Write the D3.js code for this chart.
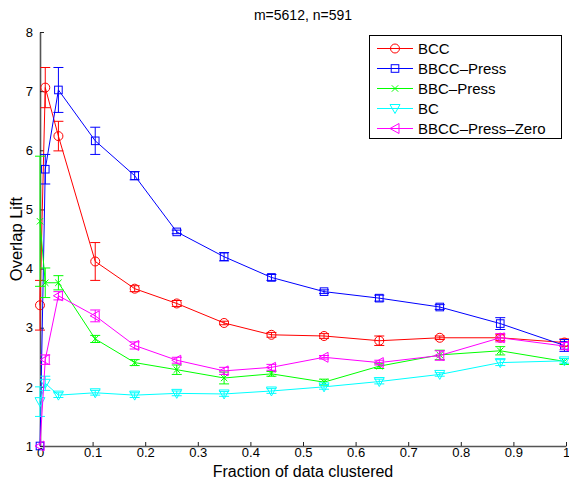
<!DOCTYPE html>
<html>
<head>
<meta charset="utf-8">
<script src="https://cdn.jsdelivr.net/npm/d3@7/dist/d3.min.js"></script>
<style>
  html, body { margin: 0; padding: 0; background: #fff; }
  svg { display: block; font-family: "Liberation Sans", Arial, sans-serif; }
</style>
</head>
<body>
<svg id="chart" width="569" height="479"></svg>
<script>
const title = "m=5612, n=591";
const xLabel = "Fraction of data clustered";
const yLabel = "Overlap Lift";
const xs = [0, 0.01, 0.035, 0.105, 0.18, 0.26, 0.35, 0.44, 0.54, 0.645, 0.76, 0.875, 0.997];
const xTicks = [0, 0.1, 0.2, 0.3, 0.4, 0.5, 0.6, 0.7, 0.8, 0.9, 1];
const xTickLabels = ["0", "0.1", "0.2", "0.3", "0.4", "0.5", "0.6", "0.7", "0.8", "0.9", "1"];
const yTicks = [1, 2, 3, 4, 5, 6, 7, 8];
const yTickLabels = ["1", "2", "3", "4", "5", "6", "7", "8"];
const seriesNames = ["BCC", "BBCC\u2013Press", "BBC\u2013Press", "BC", "BBCC\u2013Press\u2013Zero"];
const seriesColors = ["#ff0000", "#0000ff", "#00ff00", "#00ffff", "#ff00ff"];
const seriesMarkers = ["circle", "square", "x", "triDown", "triLeft"];
const bccValues = [3.38, 7.06, 6.24, 4.12, 3.66, 3.41, 3.08, 2.88, 2.86, 2.78, 2.83, 2.83, 2.75];
const bccErr = [0.42, 0.34, 0.25, 0.32, 0.05, 0.05, 0.03, 0.04, 0.04, 0.08, 0.03, 0.05, 0.06];
const bbccPressValues = [1.0, 5.68, 7.02, 6.16, 5.57, 4.62, 4.20, 3.85, 3.61, 3.50, 3.35, 3.07, 2.70];
const bbccPressErr = [0, 0.25, 0.38, 0.23, 0.07, 0.03, 0.07, 0.05, 0.03, 0.05, 0.04, 0.10, 0.10];
const bbcPressValues = [4.8, 3.76, 3.76, 2.81, 2.41, 2.29, 2.15, 2.22, 2.08, 2.35, 2.54, 2.61, 2.43];
const bbcPressErr = [1.1, 0.25, 0.12, 0.06, 0.05, 0.08, 0.10, 0.04, 0.05, 0.04, 0.08, 0.07, 0.05];
const bcValues = [1.75, 2.06, 1.86, 1.90, 1.86, 1.89, 1.88, 1.93, 2.00, 2.09, 2.21, 2.41, 2.44];
const bcErr = [0.25, 0.12, 0.04, 0.04, 0.04, 0.04, 0.04, 0.04, 0.04, 0.04, 0.03, 0.05, 0.04];
const zeroValues = [1.0, 2.46, 3.54, 3.20, 2.70, 2.45, 2.27, 2.33, 2.50, 2.41, 2.53, 2.83, 2.69];
const zeroErr = [0, 0.08, 0.07, 0.10, 0.06, 0.05, 0.06, 0.05, 0.03, 0.04, 0.08, 0.07, 0.06];

const allValues = [bccValues, bbccPressValues, bbcPressValues, bcValues, zeroValues];
const allErr = [bccErr, bbccPressErr, bbcPressErr, bcErr, zeroErr];

const svg = d3.select("#chart");
const x = d3.scaleLinear().domain([0, 1]).range([40, 566]);
const y = d3.scaleLinear().domain([1, 8]).range([446, 32]);

// title
svg.append("text").attr("x", 303).attr("y", 20).attr("text-anchor", "middle")
  .attr("font-size", 14).text(title);

// axes
const xAxis = d3.axisBottom(x).tickValues(xTicks)
  .tickFormat((d, i) => xTickLabels[i]).tickSizeInner(-4).tickSizeOuter(0).tickPadding(3);
const gx = svg.append("g").attr("transform", "translate(0,446)").call(xAxis);
const yAxis = d3.axisLeft(y).tickValues(yTicks)
  .tickFormat((d, i) => yTickLabels[i]).tickSizeInner(-4).tickSizeOuter(0).tickPadding(7);
const gy = svg.append("g").attr("transform", "translate(40,0)").call(yAxis);
[gx, gy].forEach(g => {
  g.select(".domain").attr("stroke", "#555").attr("stroke-width", 1.6);
  g.selectAll(".tick line").attr("stroke", "#222");
  g.selectAll(".tick text").attr("font-size", 13).attr("fill", "#000")
    .attr("font-family", "'Liberation Sans', Arial, sans-serif");
});
gx.selectAll(".tick text").attr("dy", "0.6em");

svg.append("text").attr("x", 303).attr("y", 477).attr("text-anchor", "middle")
  .attr("font-size", 16).text(xLabel);
svg.append("text").attr("transform", "translate(22,239) rotate(-90)")
  .attr("text-anchor", "middle").attr("font-size", 16.5).text(yLabel);

function drawMarker(g, type, cx, cy, color) {
  if (type === "circle") {
    g.append("circle").attr("cx", cx).attr("cy", cy).attr("r", 4.5)
      .attr("fill", "none").attr("stroke", color);
  } else if (type === "square") {
    g.append("rect").attr("x", cx - 3.8).attr("y", cy - 3.8).attr("width", 7.6).attr("height", 7.6)
      .attr("fill", "none").attr("stroke", color);
  } else if (type === "x") {
    const s = 3.2;
    g.append("path").attr("d", `M${cx-s},${cy-s}L${cx+s},${cy+s}M${cx-s},${cy+s}L${cx+s},${cy-s}`)
      .attr("stroke", color).attr("fill", "none");
  } else if (type === "triDown") {
    const s = 5;
    g.append("path").attr("d", `M${cx-s},${cy-s*0.8}L${cx+s},${cy-s*0.8}L${cx},${cy+s}Z`)
      .attr("stroke", color).attr("fill", "none");
  } else if (type === "triLeft") {
    const s = 5;
    g.append("path").attr("d", `M${cx+s*0.8},${cy-s}L${cx+s*0.8},${cy+s}L${cx-s},${cy}Z`)
      .attr("stroke", color).attr("fill", "none");
  }
}

const line = d3.line().x(d => x(d[0])).y(d => y(d[1]));

allValues.forEach((vals, si) => {
  const color = seriesColors[si];
  const g = svg.append("g");
  const pts = xs.map((xv, i) => [xv, vals[i], allErr[si][i]]);
  g.append("path").datum(pts).attr("d", line).attr("fill", "none")
    .attr("stroke", color).attr("stroke-width", 1);
  pts.forEach(p => {
    const cx = x(p[0]);
    if (p[2] > 0) {
      const y1 = y(p[1] - p[2]), y2 = y(p[1] + p[2]);
      g.append("path").attr("d", `M${cx},${y1}L${cx},${y2}M${cx-5},${y1}L${cx+5},${y1}M${cx-5},${y2}L${cx+5},${y2}`)
        .attr("stroke", color).attr("fill", "none").attr("stroke-width", 1);
    }
    drawMarker(g, seriesMarkers[si], cx, y(p[1]), color);
  });
});

// legend
const lg = svg.append("g");
lg.append("rect").attr("x", 369.5).attr("y", 35.5).attr("width", 192).attr("height", 103)
  .attr("fill", "#fff").attr("stroke", "#000").attr("stroke-width", 1);
seriesNames.forEach((name, i) => {
  const cy = 48.5 + i * 20;
  lg.append("line").attr("x1", 377).attr("x2", 413).attr("y1", cy).attr("y2", cy)
    .attr("stroke", seriesColors[i]).attr("stroke-width", 1);
  drawMarker(lg, seriesMarkers[i], 395, cy, seriesColors[i]);
  lg.append("text").attr("x", 418).attr("y", cy + 5.5).attr("font-size", 15).text(name);
});
</script>
</body>
</html>
